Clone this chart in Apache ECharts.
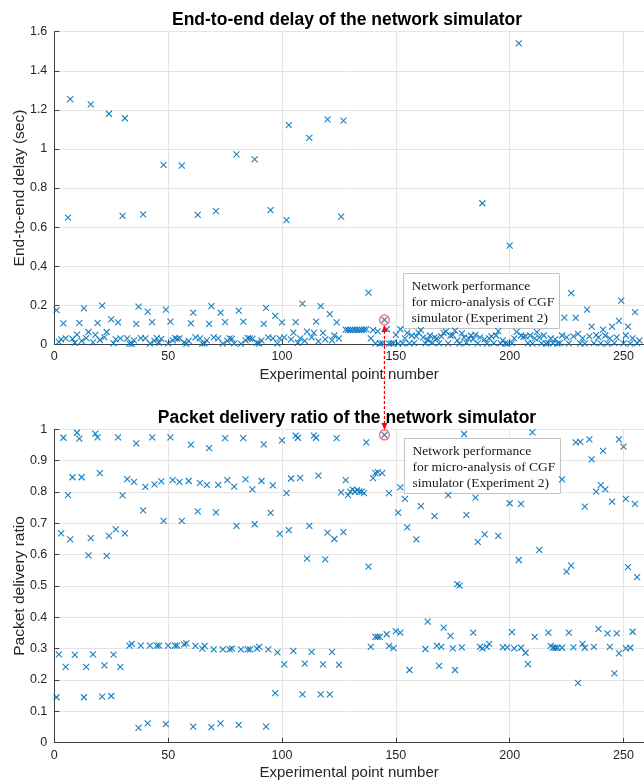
<!DOCTYPE html>
<html>
<head>
<meta charset="utf-8">
<script src="https://cdn.jsdelivr.net/npm/echarts@6/dist/echarts.min.js"></script>
<style>
  html, body { margin: 0; padding: 0; background: #fff; }
  #chart { width: 644px; height: 780px; }
</style>
</head>
<body>
<div id="chart"></div>
<script>
// end-to-end delay (sec), one value per experimental point, x = 1..257
const delayValues = [
  0.175, 0.012, 0.025, 0.107, 0.03, 0.648, 1.255, 0.028, 0.008, 0.05,
  0.11, 0.018, 0.184, 0.032, 0.063, 1.228, 0.01, 0.048, 0.11, 0.022,
  0.198, 0.035, 0.063, 1.18, 0.128, 0.005, 0.025, 0.112, 0.03, 0.657,
  1.157, 0.03, 0.004, 0.002, 0.02, 0.105, 0.193, 0.032, 0.665, 0.03,
  0.167, 0.004, 0.113, 0.018, 0.032, 0.008, 0.028, 0.918, 0.177, 0.005,
  0.116, 0.02, 0.032, 0.028, 0.03, 0.914, 0.01, 0.002, 0.018, 0.107,
  0.162, 0.035, 0.662, 0.03, 0.004, 0.005, 0.02, 0.105, 0.195, 0.035,
  0.682, 0.03, 0.162, 0.004, 0.113, 0.018, 0.03, 0.028, 0.005, 0.972,
  0.172, 0.002, 0.116, 0.02, 0.032, 0.03, 0.028, 0.947, 0.008, 0.003,
  0.02, 0.105, 0.186, 0.035, 0.687, 0.03, 0.146, 0.004, 0.03, 0.112,
  0.035, 0.636, 1.122, 0.025, 0.06, 0.113, 0.008, 0.03, 0.208, 0.018,
  0.065, 1.057, 0.035, 0.058, 0.116, 0.015, 0.195, 0.058, 0.025, 1.151,
  0.155, 0.02, 0.045, 0.112, 0.03, 0.653, 1.145, 0.075, 0.074, 0.073,
  0.074, 0.075, 0.074, 0.073, 0.074, 0.075, 0.076, 0.264, 0.03, 0.072,
  0.005, 0.066, 0.004, 0.006, 0.125, 0.077, 0.004, 0.005, 0.006, 0.048,
  0.004, 0.077, 0.005, 0.03, 0.058, 0.005, 0.045, 0.006, 0.04, 0.06,
  0.073, 0.035, 0.005, 0.022, 0.045, 0.008, 0.035, 0.03, 0.005, 0.04,
  0.058, 0.065, 0.005, 0.045, 0.047, 0.07, 0.02, 0.004, 0.056, 0.035,
  0.008, 0.03, 0.045, 0.025, 0.048, 0.005, 0.035, 0.722, 0.025, 0.004,
  0.03, 0.04, 0.006, 0.045, 0.068, 0.005, 0.02, 0.005, 0.004, 0.505,
  0.006, 0.03, 0.064, 1.54, 0.045, 0.038, 0.04, 0.006, 0.045, 0.004,
  0.03, 0.062, 0.035, 0.005, 0.045, 0.004, 0.006, 0.03, 0.005, 0.025,
  0.004, 0.006, 0.045, 0.136, 0.035, 0.005, 0.262, 0.04, 0.135, 0.053,
  0.005, 0.03, 0.004, 0.177, 0.04, 0.09, 0.006, 0.047, 0.035, 0.005,
  0.075, 0.045, 0.004, 0.03, 0.09, 0.006, 0.035, 0.12, 0.223, 0.005,
  0.045, 0.09, 0.004, 0.03, 0.165, 0.006, 0.02
];

// packet delivery ratio, [experimental point, ratio]
const pdrPoints = [
  [1,0.145],[2,0.282],[3,0.668],[4,0.973],[5,0.242],[6,0.79],[7,0.649],[8,0.847],[9,0.28],[10,0.989],
  [11,0.97],[12,0.847],[13,0.145],[14,0.242],[15,0.598],[16,0.653],[17,0.282],[18,0.986],[19,0.974],[20,0.86],
  [21,0.147],[22,0.247],[23,0.596],[24,0.66],[25,0.149],[26,0.281],[27,0.681],[28,0.974],[29,0.242],[30,0.789],
  [31,0.668],[32,0.841],[33,0.31],[34,0.315],[35,0.832],[36,0.955],[37,0.047],[38,0.31],[39,0.741],[40,0.816],
  [41,0.062],[42,0.31],[43,0.974],[44,0.824],[45,0.31],[46,0.31],[47,0.834],[48,0.708],[49,0.059],[50,0.31],
  [51,0.974],[52,0.838],[53,0.31],[54,0.31],[55,0.832],[56,0.708],[57,0.314],[58,0.317],[59,0.835],[60,0.951],
  [61,0.051],[62,0.309],[63,0.738],[64,0.829],[65,0.3],[66,0.309],[67,0.823],[68,0.94],[69,0.05],[70,0.298],
  [71,0.735],[72,0.823],[73,0.062],[74,0.298],[75,0.972],[76,0.838],[77,0.298],[78,0.3],[79,0.817],[80,0.692],
  [81,0.057],[82,0.298],[83,0.972],[84,0.84],[85,0.298],[86,0.298],[87,0.808],[88,0.697],[89,0.3],[90,0.306],
  [91,0.835],[92,0.952],[93,0.051],[94,0.298],[95,0.733],[96,0.821],[97,0.158],[98,0.288],[99,0.666],[100,0.965],
  [101,0.25],[102,0.796],[103,0.678],[104,0.843],[105,0.293],[106,0.98],[107,0.973],[108,0.845],[109,0.154],[110,0.252],
  [111,0.587],[112,0.692],[113,0.29],[114,0.98],[115,0.973],[116,0.852],[117,0.154],[118,0.25],[119,0.585],[120,0.67],
  [121,0.154],[122,0.29],[123,0.65],[124,0.972],[125,0.248],[126,0.799],[127,0.672],[128,0.838],[129,0.79],[130,0.801],
  [131,0.808],[132,0.801],[133,0.806],[134,0.801],[135,0.801],[136,0.796],[137,0.958],[138,0.562],[139,0.306],[140,0.844],
  [141,0.86],[141,0.338],[142,0.863],[142,0.338],[143,0.338],[144,0.86],[145,0.982],[146,0.346],[147,0.796],[147,0.309],
  [149,0.302],[150,0.356],[151,0.734],[152,0.351],[152,0.815],[154,0.778],[155,0.687],[156,0.232],[159,0.649],[161,0.755],
  [163,0.299],[164,0.386],[167,0.723],[168,0.309],[169,0.245],[170,0.306],[171,0.367],[173,0.79],[174,0.341],[175,0.301],
  [176,0.232],[177,0.506],[178,0.501],[179,0.304],[180,0.985],[181,0.727],[184,0.351],[185,0.782],[186,0.641],[187,0.306],
  [188,0.301],[189,0.665],[190,0.306],[191,0.315],[195,0.66],[197,0.304],[199,0.304],[200,0.764],[201,0.353],[202,0.301],
  [204,0.583],[205,0.762],[205,0.303],[207,0.287],[208,0.251],[210,0.99],[211,0.338],[213,0.615],[217,0.351],[218,0.309],
  [219,0.303],[220,0.303],[221,0.303],[223,0.303],[223,0.84],[225,0.546],[226,0.351],[227,0.565],[228,0.304],[229,0.958],
  [230,0.191],[231,0.96],[232,0.315],[233,0.303],[233,0.753],[235,0.968],[236,0.904],[237,0.306],[238,0.801],[239,0.363],
  [240,0.822],[241,0.931],[242,0.808],[243,0.349],[244,0.306],[245,0.769],[246,0.221],[247,0.349],[248,0.285],[248,0.968],
  [250,0.945],[251,0.778],[251,0.301],[252,0.56],[253,0.303],[254,0.354],[255,0.762],[256,0.528]
];

// highlighted point (Experiment 2)
const markX = 145;
const markDelay = 0.125;
const markPdr = 0.982;

const titles = ['End-to-end delay of the network simulator', 'Packet delivery ratio of the network simulator'];
const noteLines = ['Network performance', 'for micro-analysis of CGF', 'simulator (Experiment 2)'];

const chart = echarts.init(document.getElementById('chart'));

const FONT = 'Liberation Sans, Arial, Helvetica, sans-serif';
const BLUE = '#0072BD';
const crossSymbol = 'path://M0,0L10,10M0,10L10,0';

const xAxisBase = (gridIndex) => ({
  type: 'value',
  gridIndex,
  min: 0,
  max: 259,
  interval: 50,
  name: 'Experimental point number',
  nameLocation: 'middle',
  nameGap: 23,
  nameMoveOverlap: false,
  nameTextStyle: { color: '#262626', fontSize: 15, fontFamily: FONT },
  axisLine: { show: true, onZero: false, lineStyle: { color: '#404040', width: 1 } },
  axisTick: { show: true, inside: true, length: 5, lineStyle: { color: '#404040' } },
  axisLabel: { color: '#262626', fontSize: 12.5, fontFamily: FONT, margin: 6, showMaxLabel: false },
  splitLine: { show: true, lineStyle: { color: '#e4e4e4', width: 1 } }
});

const yAxisBase = (gridIndex, max, interval, name) => ({
  type: 'value',
  gridIndex,
  min: 0,
  max,
  interval,
  name,
  nameLocation: 'middle',
  nameGap: 27,
  nameMoveOverlap: false,
  nameTextStyle: { color: '#262626', fontSize: 15.5, fontFamily: FONT },
  axisLine: { show: true, lineStyle: { color: '#404040', width: 1 } },
  axisTick: { show: true, inside: true, length: 5, lineStyle: { color: '#404040' } },
  axisLabel: { color: '#262626', fontSize: 12.5, fontFamily: FONT, margin: 7 },
  splitLine: { show: true, lineStyle: { color: '#e4e4e4', width: 1 } }
});

const crossSeries = (idx, data) => ({
  type: 'scatter',
  xAxisIndex: idx,
  yAxisIndex: idx,
  symbol: crossSymbol,
  symbolSize: 6,
  itemStyle: { color: 'none', borderColor: BLUE, borderWidth: 1.1, opacity: 0.9 },
  emphasis: { disabled: true },
  silent: true,
  data
});

const circleSeries = (idx, point) => ({
  type: 'scatter',
  xAxisIndex: idx,
  yAxisIndex: idx,
  symbol: 'circle',
  symbolSize: 10,
  z: 5,
  itemStyle: { color: 'rgba(255,80,80,0.12)', borderColor: '#f04848', borderWidth: 1.2 },
  silent: true,
  data: [point]
});

const option = {
  backgroundColor: '#fff',
  animation: false,
  grid: [
    { left: 54.3, right: 0, top: 31.7, height: 312.6, outerBoundsMode: 'none', containLabel: false },
    { left: 54.3, right: 0, top: 429.3, height: 313.4, outerBoundsMode: 'none', containLabel: false }
  ],
  xAxis: [xAxisBase(0), xAxisBase(1)],
  yAxis: [
    yAxisBase(0, 1.6, 0.2, 'End-to-end delay (sec)'),
    yAxisBase(1, 1, 0.1, 'Packet delivery ratio')
  ],
  series: [
    crossSeries(0, delayValues.map((v, i) => [i + 1, v])),
    crossSeries(1, pdrPoints),
    circleSeries(0, [markX, markDelay]),
    circleSeries(1, [markX, markPdr])
  ]
};

chart.setOption(option);

// annotation: titles, note boxes, dashed red arrow between the two highlighted points
const p1 = chart.convertToPixel({ gridIndex: 0 }, [markX, markDelay]);
const p2 = chart.convertToPixel({ gridIndex: 1 }, [markX, markPdr]);

const noteBox = (left, top) => ({
  type: 'group',
  left, top,
  z: 20,
  children: [
    { type: 'rect', shape: { x: 0, y: 0, width: 156, height: 55 },
      style: { fill: '#fff', stroke: '#c4c4c4', lineWidth: 1 } },
    { type: 'text', x: 8, y: 5,
      style: { text: noteLines.join('\n'), font: '13.5px "Liberation Serif", "Times New Roman", serif',
               fill: '#1a1a1a', lineHeight: 16 } }
  ]
});

const ax = p1[0];
const yTop = p1[1] + 5;
const yBot = p2[1] - 5;

chart.setOption({
  graphic: [
    { type: 'text', x: 347, y: 20, z: 10,
      style: { text: titles[0], font: 'bold 17.5px ' + FONT, fill: '#000', align: 'center', verticalAlign: 'middle' } },
    { type: 'text', x: 347, y: 418, z: 10,
      style: { text: titles[1], font: 'bold 17.5px ' + FONT, fill: '#000', align: 'center', verticalAlign: 'middle' } },
    noteBox(403, 273),
    noteBox(404, 438),
    { type: 'line', z: 30, shape: { x1: ax, y1: yTop + 6, x2: ax, y2: yBot - 6 },
      style: { stroke: '#f00', lineWidth: 1.2, lineDash: [3, 2] } },
    { type: 'polygon', z: 30, shape: { points: [[ax, yTop], [ax - 3, yTop + 7], [ax + 3, yTop + 7]] },
      style: { fill: '#f00' } },
    { type: 'polygon', z: 30, shape: { points: [[ax, yBot], [ax - 3, yBot - 7], [ax + 3, yBot - 7]] },
      style: { fill: '#f00' } }
  ]
});
</script>
</body>
</html>
